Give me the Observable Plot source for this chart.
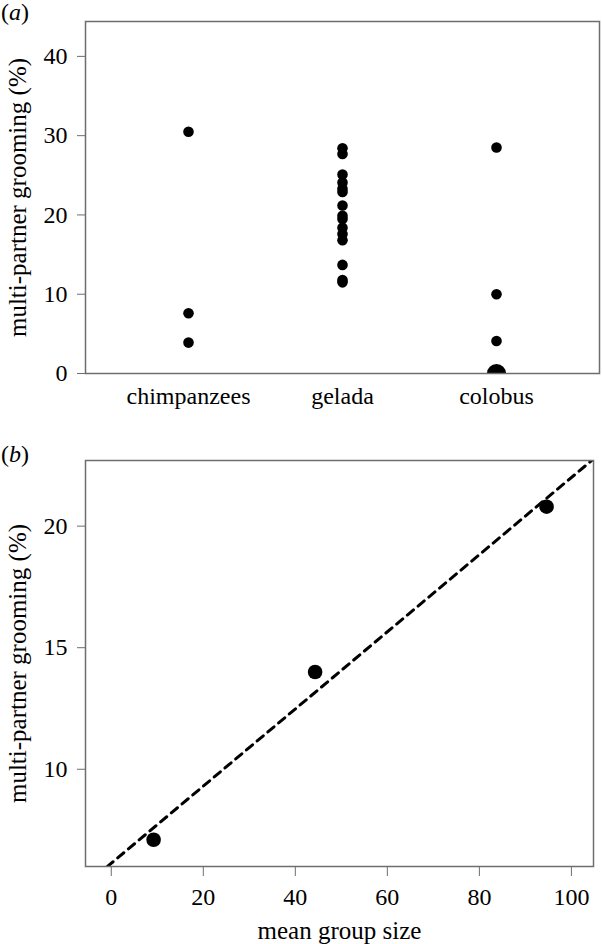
<!DOCTYPE html>
<html><head><meta charset="utf-8">
<script src="https://cdn.jsdelivr.net/npm/d3@7"></script>
<script src="https://cdn.jsdelivr.net/npm/@observablehq/plot@0.6"></script>
<style>
body{margin:0;background:#fff;}
#wrap{position:relative;width:602px;height:944px;font-family:"Liberation Serif","Times New Roman",serif;}
.panel{position:absolute;left:0;z-index:1;}
.tag{position:absolute;left:1px;z-index:2;font-size:24px;line-height:1;font-family:"Liberation Serif","Times New Roman",serif;color:#000;}
</style></head><body>
<div id="wrap">
  <div class="panel" id="pa" style="top:0"></div>
  <div class="panel" id="pb" style="top:430px"></div>
  <div class="tag" style="top:0px">(<i>a</i>)</div>
  <div class="tag" style="top:442px">(<i>b</i>)</div>
</div>
<script>
// ---- data ----
const species = ["chimpanzees", "gelada", "colobus"];
const chimpanzeeValues = [30.5, 7.6, 3.9];
const geladaValues = [28.4, 27.7, 25.1, 24.1, 23.3, 22.9, 21.2, 19.9, 19.5, 18.4, 17.6, 16.8, 13.7, 11.8, 11.5];
const colobusValues = [28.5, 10.0, 4.1];
const colobusZeroValues = [0]; // several groups at 0 %, drawn as one enlarged dot
const yTicksA = [0, 10, 20, 30, 40];

const groupSize = [9.2, 44.3, 94.6];
const meanMultiGrooming = [7.1, 14.0, 20.8];
const xTicksB = [0, 20, 40, 60, 80, 100];
const yTicksB = [10, 15, 20];

const yLabel = "multi-partner grooming (%)";
const xLabelB = "mean group size";

const font = "'Liberation Serif','Times New Roman',serif";
const frameColor = "#6e6e6e";

// ---- panel (a) ----
const ptsA = [
  ...chimpanzeeValues.map(v => ({sp: species[0], v})),
  ...geladaValues.map(v => ({sp: species[1], v})),
  ...colobusValues.map(v => ({sp: species[2], v}))
];
const zeroPts = colobusZeroValues.map(v => ({sp: species[2], v}));

const plotA = Plot.plot({
  width: 602, height: 430,
  marginTop: 21, marginBottom: 57, marginLeft: 85, marginRight: 3,
  style: {fontFamily: font, fontSize: "24px", background: "white", color: "black", overflow: "visible"},
  x: {type: "point", domain: species, padding: 0.665, label: null},
  y: {domain: [0, 44.4], label: null},
  marks: [
    Plot.dot(ptsA, {x: "sp", y: "v", r: 5.3, fill: "black"}),
    Plot.dot(zeroPts, {x: "sp", y: "v", r: 9.5, fill: "black", clip: true}),
    Plot.frame({stroke: frameColor, strokeWidth: 1.5}),
    Plot.axisY({ticks: yTicksA, tickSize: 8, tickPadding: 10, stroke: frameColor, fill: "black", label: null}),
    Plot.axisX({tickSize: 0, tickPadding: 13, fill: "black", label: null}),
    Plot.text([yLabel], {text: d => d, frameAnchor: "left", textAnchor: "middle", lineAnchor: "middle",
      rotate: -90, dx: -68, fontSize: 25, fill: "black"})
  ]
});
document.getElementById("pa").appendChild(plotA);

// ---- panel (b) ----
const ptsB = groupSize.map((g, i) => ({g, m: meanMultiGrooming[i]}));
const mx = d3.mean(groupSize), my = d3.mean(meanMultiGrooming);
const slope = d3.sum(ptsB, d => (d.g - mx) * (d.m - my)) / d3.sum(ptsB, d => (d.g - mx) ** 2);
const intercept = my - slope * mx;
const xDomB = [-5.6, 104.8];
const fitLine = xDomB.map(g => ({g, m: intercept + slope * g}));

const plotB = Plot.plot({
  width: 602, height: 514,
  marginTop: 30, marginBottom: 78, marginLeft: 85, marginRight: 9,
  style: {fontFamily: font, fontSize: "24px", background: "white", color: "black", overflow: "visible"},
  x: {domain: xDomB, label: null},
  y: {domain: [6.0, 22.7], label: null},
  marks: [
    Plot.line(fitLine, {x: "g", y: "m", stroke: "black", strokeWidth: 3, strokeDasharray: "8,6", clip: true}),
    Plot.dot(ptsB, {x: "g", y: "m", r: 7.3, fill: "black"}),
    Plot.frame({stroke: frameColor, strokeWidth: 1.5}),
    Plot.axisY({ticks: yTicksB, tickSize: 8, tickPadding: 10, stroke: frameColor, fill: "black", label: null}),
    Plot.axisX({ticks: xTicksB, tickSize: 10, tickPadding: 11, stroke: frameColor, fill: "black", label: null}),
    Plot.text([yLabel], {text: d => d, frameAnchor: "left", textAnchor: "middle", lineAnchor: "middle",
      rotate: -90, dx: -68, fontSize: 25, fill: "black"}),
    Plot.text([xLabelB], {text: d => d, frameAnchor: "bottom", lineAnchor: "middle", dy: 64, fontSize: 25, fill: "black"})
  ]
});
document.getElementById("pb").appendChild(plotB);
</script>
</body></html>
